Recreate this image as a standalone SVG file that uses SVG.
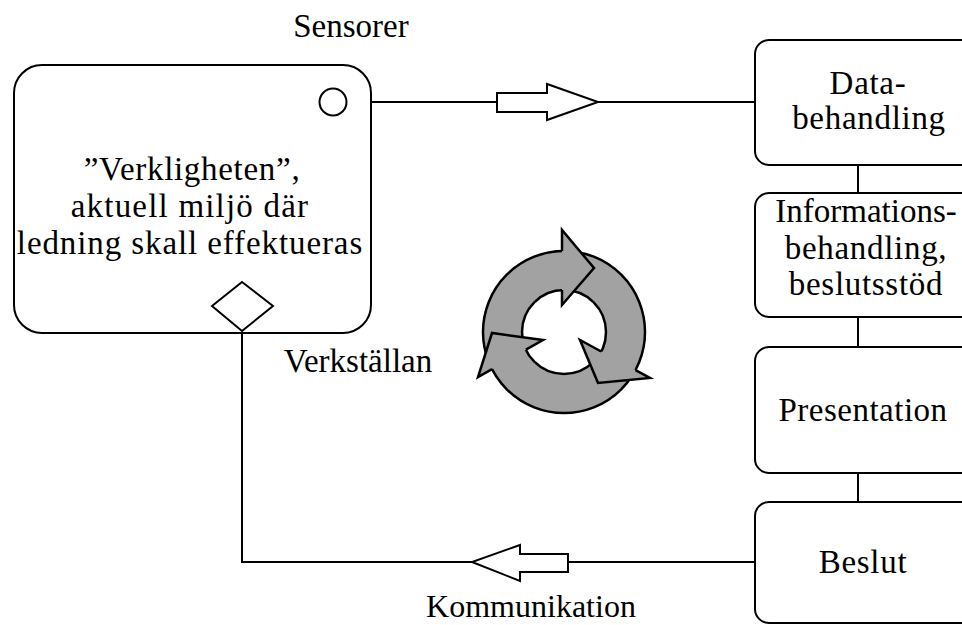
<svg xmlns="http://www.w3.org/2000/svg" width="962" height="625" viewBox="0 0 962 625">
  <style>
    .box { fill: #fff; stroke: #000; stroke-width: 2; }
    .line { fill: none; stroke: #000; stroke-width: 2; }
    .hollow { fill: #fff; stroke: #000; stroke-width: 2; stroke-linejoin: miter; }
    text { font-family: 'Liberation Serif', 'Times New Roman', serif; font-size: 33px; fill: #000; text-anchor: middle; }
    .wide { letter-spacing: 0.7px; }
    .ring { fill: #a2a2a2; }
    .ringline { fill: none; stroke: #000; stroke-width: 2.5; }
    .head { fill: #a2a2a2; stroke: none; }
    .headline { fill: none; stroke: #000; stroke-width: 2.5; stroke-linejoin: miter; }
  </style>

  <!-- connectors -->
  <g id="connectors">
    <!-- sensor feed to data handling -->
    <line class="line" x1="347" y1="102" x2="497" y2="102"/>
    <line class="line" x1="598" y1="102" x2="755" y2="102"/>
    <polygon class="hollow" points="497,93 547,93 547,84 598,102 547,120 547,112 497,112"/>
    <!-- chain between the processing steps -->
    <line class="line" x1="858" y1="165" x2="858" y2="193"/>
    <line class="line" x1="858" y1="317" x2="858" y2="347"/>
    <line class="line" x1="858" y1="473" x2="858" y2="502"/>
    <!-- decision back to the environment -->
    <line class="line" x1="755" y1="562" x2="568" y2="562"/>
    <polyline class="line" points="472,562 242,562 242,331"/>
    <polygon class="hollow" points="568,554 520,554 520,545 472,562 520,581 520,572 568,572"/>
  </g>

  <!-- environment node with sensor and actuator ports -->
  <g id="environment">
    <rect class="box" x="14" y="65" width="357" height="268" rx="28" ry="28"/>
    <text class="wide" x="192" y="180">”Verkligheten”,</text>
    <text x="190" y="217" style="letter-spacing:1.2px">aktuell miljö där</text>
    <text x="190" y="254" style="letter-spacing:0.9px">ledning skall effektueras</text>
  </g>
  <g id="sensor">
    <circle class="box" cx="333" cy="102" r="13.5"/>
  </g>
  <g id="actuator">
    <polygon class="box" points="242,282 273,306 242,331 212,306"/>
  </g>

  <g id="label-sensorer"><text x="351" y="37">Sensorer</text></g>
  <g id="label-verkstallan"><text x="358" y="372">Verkställan</text></g>
  <g id="label-kommunikation"><text x="531" y="617" style="font-size:32px">Kommunikation</text></g>

  <!-- processing chain -->
  <g id="data">
    <rect class="box" x="755" y="40" width="230" height="125" rx="14" ry="14"/>
    <text class="wide" x="868" y="94">Data-</text>
    <text class="wide" x="869" y="129">behandling</text>
  </g>
  <g id="information">
    <rect class="box" x="755" y="193" width="230" height="124" rx="14" ry="14"/>
    <text x="866" y="222">Informations-</text>
    <text class="wide" x="866" y="259">behandling,</text>
    <text class="wide" x="866" y="295">beslutsstöd</text>
  </g>
  <g id="presentation">
    <rect class="box" x="755" y="347" width="230" height="126" rx="14" ry="14"/>
    <text x="863" y="421" style="letter-spacing:0.5px">Presentation</text>
  </g>
  <g id="beslut">
    <rect class="box" x="755" y="502" width="230" height="121" rx="14" ry="14"/>
    <text class="wide" x="863" y="573">Beslut</text>
  </g>

  <!-- cycle symbol: grey ring with three clockwise arrowheads -->
  <g id="cycle">
    <path class="ring" fill-rule="evenodd" d="M645,332 A81,81 0 1 1 483,332 A81,81 0 1 1 645,332 Z M606,332 A42,42 0 1 0 522,332 A42,42 0 1 0 606,332 Z"/>
    <circle class="ringline" cx="564" cy="332" r="81"/>
    <circle class="ringline" cx="564" cy="332" r="42"/>
    <polygon class="head" points="562,230 594,268 562,305"/>
    <path class="headline" d="M562,251 L562,230 L594,268 L562,305 L562,290"/>
    <polygon class="head" points="650,378 598,383 580,340"/>
    <path class="headline" d="M635.5,370.1 L650,378 L598,383 L580,340 L601.2,351.5"/>
    <polygon class="head" points="478,377 492,333 543,340"/>
    <path class="headline" d="M492,369.1 L478,377 L492,333 L543,340 L525.9,349.7"/>
  </g>
</svg>
